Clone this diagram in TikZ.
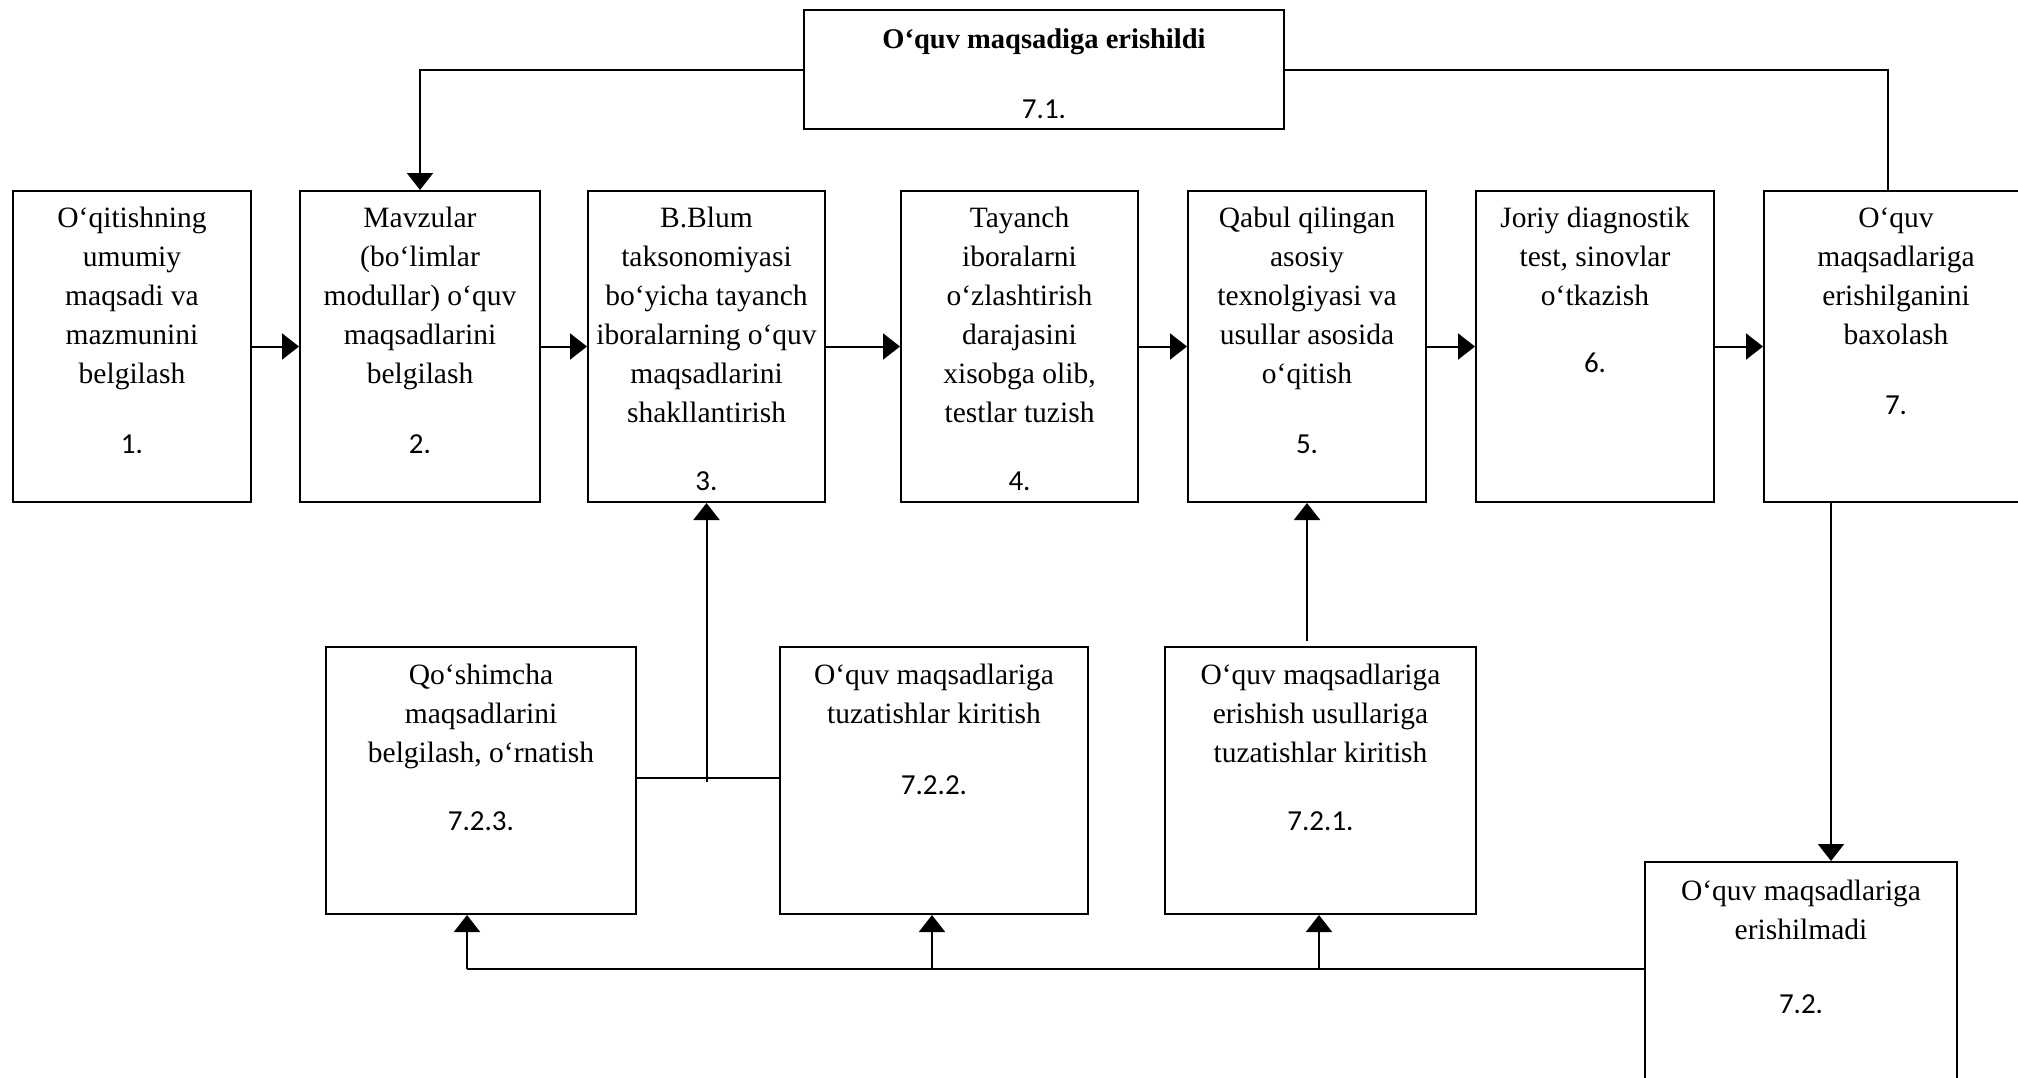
\documentclass[tikz,border=0pt]{standalone}
\usepackage{fontspec}
\setmainfont{Liberation Serif}
\newfontfamily\numfont{Carlito}
\usetikzlibrary{arrows.meta,calc}
\begin{document}
\begin{tikzpicture}[x=1pt,y=-1pt,
  box/.style={draw,line width=2pt,inner sep=0pt},
  txt/.style={anchor=north,inner sep=0pt,align=center,font=\fontsize{29.5}{39}\selectfont},
  ttl/.style={anchor=base,inner sep=0pt,font=\bfseries\fontsize{28.5}{34}\selectfont},
  num/.style={inner sep=0pt,font=\numfont\fontsize{29}{35}\selectfont},
  ln/.style={line width=2pt},
  arr/.style={line width=2pt,-{Triangle[length=17pt,width=26pt]}}]
\useasboundingbox (0,0) rectangle (2018,1077);
\fill[white] (0,0) rectangle (2018,1077);

% top box
\node[box,minimum width=480pt,minimum height=119pt] (T) at (1044,69.5) {};
\node[ttl] (Tt) at (1044,48) {O‘quv maqsadiga erishildi};
\node[num] (Tn) at (1044,109) {7.1.};

% row boxes
\node[box,minimum width=238pt,minimum height=311pt] (B1) at (132,346.5) {};
\node[box,minimum width=240pt,minimum height=311pt] (B2) at (420,346.5) {};
\node[box,minimum width=237pt,minimum height=311pt] (B3) at (706.5,346.5) {};
\node[box,minimum width=237pt,minimum height=311pt] (B4) at (1019.5,346.5) {};
\node[box,minimum width=238pt,minimum height=311pt] (B5) at (1307,346.5) {};
\node[box,minimum width=238pt,minimum height=311pt] (B6) at (1595,346.5) {};
\node[box,minimum width=260pt,minimum height=311pt] (B7) at (1894,346.5) {};

\node[txt] (B1t) at (132,200) {\strut O‘qitishning\\umumiy\\maqsadi va\\mazmunini\\belgilash};
\node[txt] (B2t) at (420,200) {\strut Mavzular\\(bo‘limlar\\modullar) o‘quv\\maqsadlarini\\belgilash};
\node[txt] (B3t) at (706.5,200) {\strut B.Blum\\taksonomiyasi\\bo‘yicha tayanch\\iboralarning o‘quv\\maqsadlarini\\shakllantirish};
\node[txt] (B4t) at (1019.5,200) {\strut Tayanch\\iboralarni\\o‘zlashtirish\\darajasini\\xisobga olib,\\testlar tuzish};
\node[txt] (B5t) at (1307,200) {\strut Qabul qilingan\\asosiy\\texnolgiyasi va\\usullar asosida\\o‘qitish};
\node[txt] (B6t) at (1595,200) {\strut Joriy diagnostik\\test, sinovlar\\o‘tkazish};
\node[txt] (B7t) at (1896,200) {\strut O‘quv\\maqsadlariga\\erishilganini\\baxolash};

\node[num] (B1n) at (132,444) {1.};
\node[num] (B2n) at (420,444) {2.};
\node[num] (B3n) at (706.5,481) {3.};
\node[num] (B4n) at (1019.5,481) {4.};
\node[num] (B5n) at (1307,444) {5.};
\node[num] (B6n) at (1595,363) {6.};
\node[num] (B7n) at (1896,405) {7.};

% bottom boxes
\node[box,minimum width=310pt,minimum height=267pt] (C3) at (481,780.5) {};
\node[box,minimum width=308pt,minimum height=267pt] (C2) at (934,780.5) {};
\node[box,minimum width=311pt,minimum height=267pt] (C1) at (1320.5,780.5) {};
\node[box,minimum width=312pt,minimum height=238pt] (D) at (1801,981) {};

\node[txt] (C3t) at (481,657) {\strut Qo‘shimcha\\maqsadlarini\\belgilash, o‘rnatish};
\node[txt] (C2t) at (934,657) {\strut O‘quv maqsadlariga\\tuzatishlar kiritish};
\node[txt] (C1t) at (1320.5,657) {\strut O‘quv maqsadlariga\\erishish usullariga\\tuzatishlar kiritish};
\node[txt] (Dt) at (1801,873) {\strut O‘quv maqsadlariga\\erishilmadi};

\node[num] (C3n) at (481,821) {7.2.3.};
\node[num] (C2n) at (934,785) {7.2.2.};
\node[num] (C1n) at (1320.5,821) {7.2.1.};
\node[num] (Dn) at (1801,1004) {7.2.};

% row arrows
\draw[arr] (B1.east) -- (B2.west);
\draw[arr] (B2.east) -- (B3.west);
\draw[arr] (B3.east) -- (B4.west);
\draw[arr] (B4.east) -- (B5.west);
\draw[arr] (B5.east) -- (B6.west);
\draw[arr] (B6.east) -- (B7.west);

% top connectors
\draw[arr] (T.west) -| (B2.north);
\draw[ln] (T.east) -| ([xshift=-6pt]B7.north);

% down to 7.2
\coordinate (P) at (1831,0);
\draw[arr] (B7.south -| P) -- (D.north -| P);

% bottom feedback line
\coordinate (Q) at (0,969);
\coordinate (Q3) at (467,969);
\coordinate (Q2) at (932,969);
\coordinate (Q1) at (1319,969);
\draw[ln] (D.west |- Q) -- (Q3);
\draw[arr] (Q3) -- (Q3 |- C3.south);
\draw[arr] (Q2) -- (Q2 |- C2.south);
\draw[arr] (Q1) -- (Q1 |- C1.south);

% middle connector to box 3
\coordinate (M) at (0,778);
\draw[ln] (C3.east |- M) -- (C2.west |- M);
\draw[arr] ([yshift=-4pt]B3.south |- M) -- (B3.south);

% 7.2.1 up to box 5
\draw[arr] ([yshift=5pt]B5.south |- C1.north) -- (B5.south);
\end{tikzpicture}
\end{document}
